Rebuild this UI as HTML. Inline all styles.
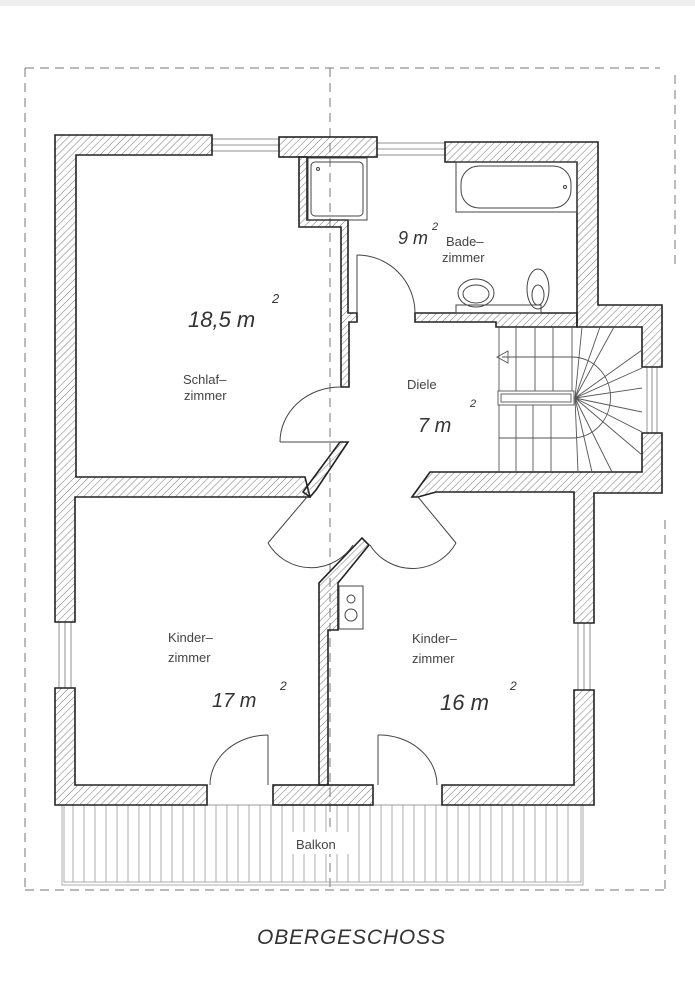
<!DOCTYPE html>
<html><head><meta charset="utf-8"><style>
html,body{margin:0;padding:0;background:#fff}
svg{display:block}
.t{font-family:"Liberation Sans",sans-serif;font-size:13px;fill:#444}
.h{font-family:"Liberation Sans",sans-serif;font-style:italic;fill:#333}
</style></head><body>
<svg width="695" height="1000" viewBox="0 0 695 1000" xmlns="http://www.w3.org/2000/svg">
<defs>
<pattern id="h" width="5" height="5" patternUnits="userSpaceOnUse" patternTransform="rotate(45)">
<line x1="0" y1="0" x2="0" y2="5" stroke="#666" stroke-width="0.9"/>
</pattern>
</defs>
<rect width="695" height="1000" fill="#fff"/>
<rect x="0" y="0" width="695" height="6" fill="#eee"/>
<g stroke="#777" stroke-width="1" stroke-dasharray="9,6" fill="none">
<polyline points="25,68 660,68"/>
<line x1="25" y1="68" x2="25" y2="890"/>
<line x1="25" y1="890" x2="665" y2="890"/>
<line x1="665" y1="520" x2="665" y2="890"/>
<line x1="330" y1="68" x2="330" y2="890"/>
<line x1="675" y1="75" x2="675" y2="270"/>
</g>
<g stroke="#999" stroke-width="0.8" fill="none">
<rect x="62" y="805" width="521" height="80"/>
<rect x="64" y="805" width="517" height="77"/>
<path d="M73 805V882 M84 805V882 M95 805V882 M106 805V882 M117 805V882 M128 805V882 M139 805V882 M150 805V882 M161 805V882 M172 805V882 M183 805V882 M194 805V882 M205 805V882 M216 805V882 M227 805V882 M238 805V882 M249 805V882 M260 805V882 M271 805V882 M282 805V882 M293 805V882 M304 805V882 M315 805V882 M326 805V882 M337 805V882 M348 805V882 M359 805V882 M370 805V882 M381 805V882 M392 805V882 M403 805V882 M414 805V882 M425 805V882 M436 805V882 M447 805V882 M458 805V882 M469 805V882 M480 805V882 M491 805V882 M502 805V882 M513 805V882 M524 805V882 M535 805V882 M546 805V882 M557 805V882 M568 805V882"/>
</g>
<rect x="285" y="832" width="70" height="22" fill="#fff"/>
<g stroke="#777" stroke-width="0.8" fill="none">
<rect x="212" y="139" width="67" height="12"/><line x1="212" y1="145" x2="279" y2="145"/>
<rect x="377" y="143" width="68" height="12"/><line x1="377" y1="149" x2="445" y2="149"/>
<rect x="59" y="622" width="12" height="66"/><line x1="65" y1="622" x2="65" y2="688"/>
<rect x="578" y="623" width="12" height="67"/><line x1="584" y1="623" x2="584" y2="690"/>
<rect x="647" y="367" width="10" height="66"/><line x1="652" y1="367" x2="652" y2="433"/>
</g>
<g fill="url(#h)" stroke="#222" stroke-width="1.6">
<path d="M55 135H212V155H76V477H305L310 497H75V622H55Z"/>
<rect x="279" y="137" width="98" height="20"/>
<path d="M299 157H307V220H348V313H357V322H349V387H341V227H299Z"/>
<path d="M445 142H598V305H662V367H642V327H577V162H445Z"/>
<path d="M415 313H577V327H496V322H415Z"/>
<path d="M642 433H662V493H594V623H574V492H436L418 497H412L430 472H642Z"/>
<path d="M55 688H75V785H207V805H55Z"/>
<rect x="273" y="785" width="100" height="20"/>
<path d="M442 785H574V690H594V805H442Z"/>
<path d="M319 785V583L362 538L369 545L338 583V630H328V785Z"/>
<path d="M340 442H348L316 490L310 497L303 492Z"/>
</g>
<g stroke="#444" stroke-width="1" fill="none">
<path d="M280 442H340"/><path d="M280 442A60 55 0 0 1 340 387"/>
<path d="M357 255V313"/><path d="M357 255A58 58 0 0 1 415 313"/>
<path d="M307 497L268 543"/><path d="M268 543A50 50 0 0 0 353 545"/>
<path d="M418 497L456 543"/><path d="M456 543A50 50 0 0 1 370 545"/>
<path d="M268 735V785"/><path d="M268 735A58 50 0 0 0 210 785"/>
<path d="M378 735V785"/><path d="M378 735A58 50 0 0 1 437 785"/>
</g>
<g stroke="#444" stroke-width="1" fill="none">
<rect x="308" y="158" width="59" height="62"/>
<rect x="311" y="162" width="52" height="54" rx="4"/>
<circle cx="318" cy="169" r="1.5"/>
<rect x="456" y="162" width="121" height="50"/>
<rect x="461" y="166" width="110" height="42" rx="18"/>
<circle cx="565" cy="187" r="1.5"/>
<rect x="456" y="305" width="85" height="8"/>
<ellipse cx="476" cy="293" rx="18" ry="14"/>
<ellipse cx="476" cy="294" rx="13" ry="9"/>
<ellipse cx="538" cy="289" rx="11" ry="20"/>
<ellipse cx="538" cy="295" rx="6" ry="10"/>
<rect x="339" y="586" width="24" height="43"/>
<circle cx="351" cy="599" r="4"/><circle cx="351" cy="615" r="6"/>
</g>
<g stroke="#555" stroke-width="0.9" fill="none">
<line x1="499" y1="327" x2="499" y2="472"/>
<path d="M516 327V391 M535 327V391 M553 327V391 M572 327V391"/>
<path d="M516 405V472 M533 405V472 M551 405V472"/>
<path d="M575 398L582 327 M575 398L600 327 M575 398L614 327 M575 398L642 350 M575 398L642 368 M575 398L642 388 M575 398L642 412 M575 398L642 432 M575 398L642 455 M575 398L612 472 M575 398L592 472 M575 398L578 472"/>
<rect x="498" y="391" width="76" height="14" fill="#fff"/>
<rect x="501" y="394" width="70" height="8"/>
<path d="M502 357H572A38 40 0 0 1 572 438H499"/>
<path d="M497 357L508 351V363Z"/>
</g>
<text class="t" x="183" y="384">Schlaf–</text>
<text class="t" x="184" y="400">zimmer</text>
<text class="t" x="446" y="246">Bade–</text>
<text class="t" x="442" y="262">zimmer</text>
<text class="t" x="407" y="389">Diele</text>
<text class="t" x="168" y="642">Kinder–</text>
<text class="t" x="168" y="662">zimmer</text>
<text class="t" x="412" y="643">Kinder–</text>
<text class="t" x="412" y="663">zimmer</text>
<text class="t" x="296" y="849">Balkon</text>
<text class="h" x="188" y="327" font-size="22">18,5 m</text><text class="h" x="272" y="303" font-size="13">2</text>
<text class="h" x="398" y="244" font-size="18">9 m</text><text class="h" x="432" y="230" font-size="11">2</text>
<text class="h" x="418" y="432" font-size="20">7 m</text><text class="h" x="470" y="407" font-size="11">2</text>
<text class="h" x="212" y="707" font-size="20">17 m</text><text class="h" x="280" y="690" font-size="12">2</text>
<text class="h" x="440" y="710" font-size="22">16 m</text><text class="h" x="510" y="690" font-size="12">2</text>
<text class="h" x="257" y="944" font-size="21" letter-spacing="2" textLength="190">OBERGESCHOSS</text>
</svg>
</body></html>
